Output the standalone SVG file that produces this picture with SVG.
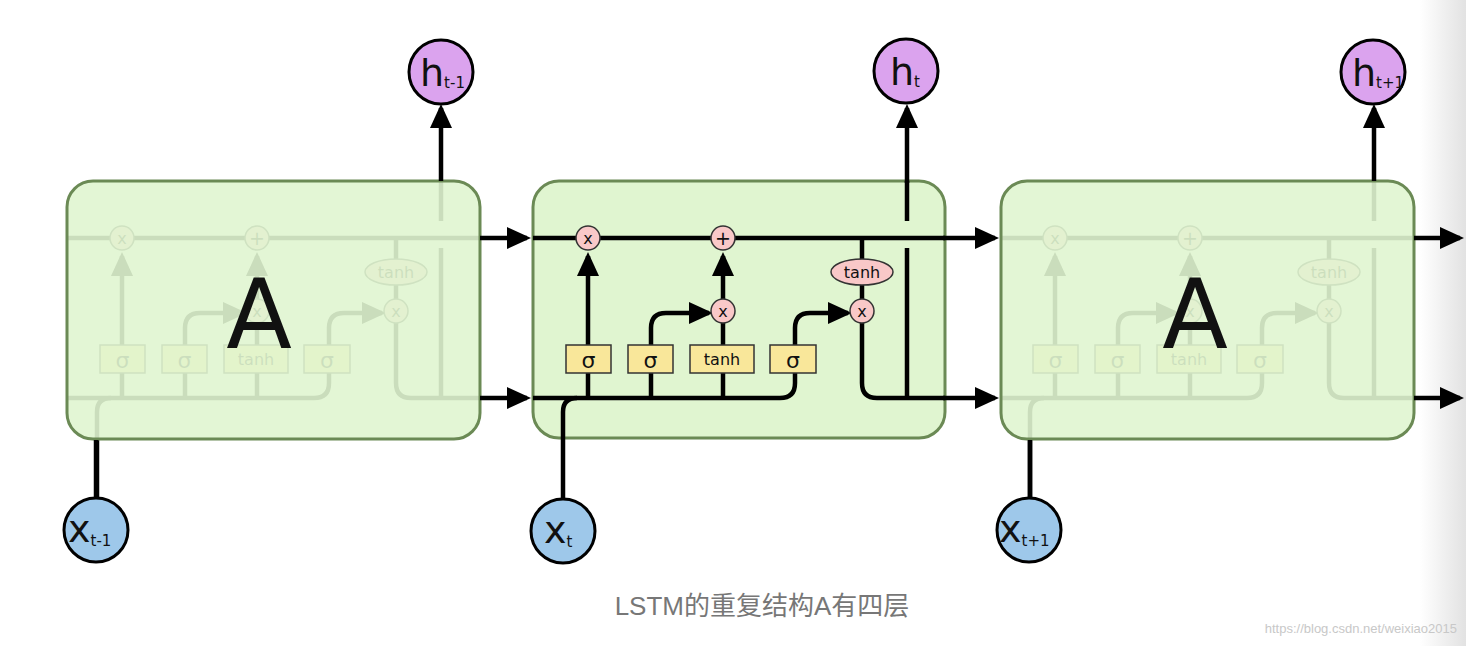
<svg xmlns="http://www.w3.org/2000/svg" xmlns:xlink="http://www.w3.org/1999/xlink" width="1466" height="646" viewBox="0 0 1466 646">
<style>
.ln{fill:none;stroke:#000;stroke-width:4.5}
.op{fill:#f9c8c8;stroke:#333;stroke-width:1.5}
.ly{fill:#f9e79a;stroke:#333;stroke-width:1.5}
.t{font-family:"DejaVu Sans","Liberation Sans",sans-serif;fill:#111;text-anchor:middle}
.box{stroke:#6b8a55;stroke-width:3}
.hc{fill:#dba3ee;stroke:#000;stroke-width:3}
.xc{fill:#9ec8ea;stroke:#000;stroke-width:3}
.big{font-family:"DejaVu Sans","Liberation Sans",sans-serif;fill:#111}
</style>
<defs>
<marker id="ar" markerUnits="userSpaceOnUse" markerWidth="24" markerHeight="24" refX="20" refY="12" orient="auto"><path d="M0,1 L24,12 L0,23 z" fill="#000"/></marker>
<linearGradient id="sh" x1="0" x2="1"><stop offset="0" stop-color="#fff"/><stop offset="1" stop-color="#e2e2e2"/></linearGradient>
<g id="inner">
<path class="ln" d="M533,238 H945"/>
<path class="ln" d="M533,398 H780 q15,0 15,-15 V328 q0,-15 15,-15 H848" marker-end="url(#ar)"/>
<path class="ln" d="M563,500 V412 q0,-14 14,-14"/>
<path class="ln" d="M588,398 V256" marker-end="url(#ar)"/>
<path class="ln" d="M651,398 V328 q0,-15 15,-15 H709" marker-end="url(#ar)"/>
<path class="ln" d="M723,398 V323"/>
<path class="ln" d="M723,299 V256" marker-end="url(#ar)"/>
<path class="ln" d="M862,238 V299"/>
<path class="ln" d="M862,323 V383 q0,15 15,15 H945"/>
<path class="ln" d="M907,398 V248"/>
<path class="ln" d="M907,221 V181"/>
<rect class="ly" x="566" y="345" width="45" height="28"/>
<rect class="ly" x="628" y="345" width="45" height="28"/>
<rect class="ly" x="690" y="345" width="64" height="28"/>
<rect class="ly" x="770" y="345" width="46" height="28"/>
<text class="t" x="588.5" y="368" font-size="22">σ</text>
<text class="t" x="650.5" y="368" font-size="22">σ</text>
<text class="t" x="722" y="365" font-size="16">tanh</text>
<text class="t" x="793" y="368" font-size="22">σ</text>
<circle class="op" cx="588" cy="238" r="12"/>
<circle class="op" cx="723" cy="238" r="12"/>
<circle class="op" cx="723" cy="311" r="12"/>
<circle class="op" cx="862" cy="311" r="12"/>
<ellipse class="op" cx="862" cy="272" rx="31" ry="13"/>
<text class="t" x="588" y="244" font-size="16">x</text>
<text class="t" x="723" y="245" font-size="19">+</text>
<text class="t" x="723" y="317" font-size="16">x</text>
<text class="t" x="862" y="317" font-size="16">x</text>
<text class="t" x="862" y="278" font-size="16">tanh</text>
</g>
</defs>
<rect width="1466" height="646" fill="#fff"/>
<rect x="1420" y="0" width="46" height="646" fill="url(#sh)"/>
<g id="cell-left">
<use xlink:href="#inner" href="#inner" transform="translate(-466,0)"/>
<rect class="box" x="67" y="181" width="413" height="258" rx="26" fill="#e0f5d0" fill-opacity="0.9"/>
<text class="big" x="259" y="348" font-size="96" text-anchor="middle">A</text>
</g>
<g id="cell-mid">
<rect class="box" x="533" y="181" width="412" height="257" rx="26" fill="#e0f5d0"/>
<use xlink:href="#inner" href="#inner"/>
</g>
<g id="cell-right">
<use xlink:href="#inner" href="#inner" transform="translate(467,0)"/>
<rect class="box" x="1001" y="181" width="413" height="258" rx="26" fill="#e0f5d0" fill-opacity="0.9"/>
<text class="big" x="1195" y="348" font-size="96" text-anchor="middle">A</text>
</g>
<g id="connectors">
<path class="ln" d="M480,238 H527" marker-end="url(#ar)"/>
<path class="ln" d="M480,398 H527" marker-end="url(#ar)"/>
<path class="ln" d="M943,238 H995" marker-end="url(#ar)"/>
<path class="ln" d="M943,398 H995" marker-end="url(#ar)"/>
<path class="ln" d="M1414,238 H1460" marker-end="url(#ar)"/>
<path class="ln" d="M1414,398 H1460" marker-end="url(#ar)"/>
<path class="ln" d="M96,440 V498"/>
<path class="ln" d="M1030,440 V498"/>
<path class="ln" d="M441,181 V108" marker-end="url(#ar)"/>
<path class="ln" d="M1374,181 V108" marker-end="url(#ar)"/>
<path class="ln" d="M907,183 V108" marker-end="url(#ar)"/>
</g>
<g id="h-prev"><circle class="hc" cx="441" cy="72" r="32"/><text class="big" x="420" y="86" font-size="38">h<tspan font-size="15" dy="2">t-1</tspan></text></g>
<g id="h-cur"><circle class="hc" cx="906" cy="71" r="32"/><text class="big" x="890" y="85" font-size="38">h<tspan font-size="15" dy="2">t</tspan></text></g>
<g id="h-next"><circle class="hc" cx="1373" cy="72" r="32"/><text class="big" x="1352" y="86" font-size="38">h<tspan font-size="15" dy="2">t+1</tspan></text></g>
<g id="x-prev"><circle class="xc" cx="96" cy="530" r="32"/><text class="big" x="68" y="542" font-size="38">x<tspan font-size="15" dy="4">t-1</tspan></text></g>
<g id="x-cur"><circle class="xc" cx="563" cy="531" r="32"/><text class="big" x="544" y="543" font-size="38">x<tspan font-size="15" dy="4">t</tspan></text></g>
<g id="x-next"><circle class="xc" cx="1029" cy="530" r="32"/><text class="big" x="999" y="542" font-size="38">x<tspan font-size="15" dy="4">t+1</tspan></text></g>
<text x="762" y="615" font-family="'Liberation Sans','Noto Sans CJK SC',sans-serif" font-size="26" fill="#777" text-anchor="middle">LSTM的重复结构A有四层</text>
<text x="1457" y="633" font-family="'Liberation Sans',sans-serif" font-size="13" fill="#c8c8c8" text-anchor="end">https://blog.csdn.net/weixiao2015</text>
</svg>
